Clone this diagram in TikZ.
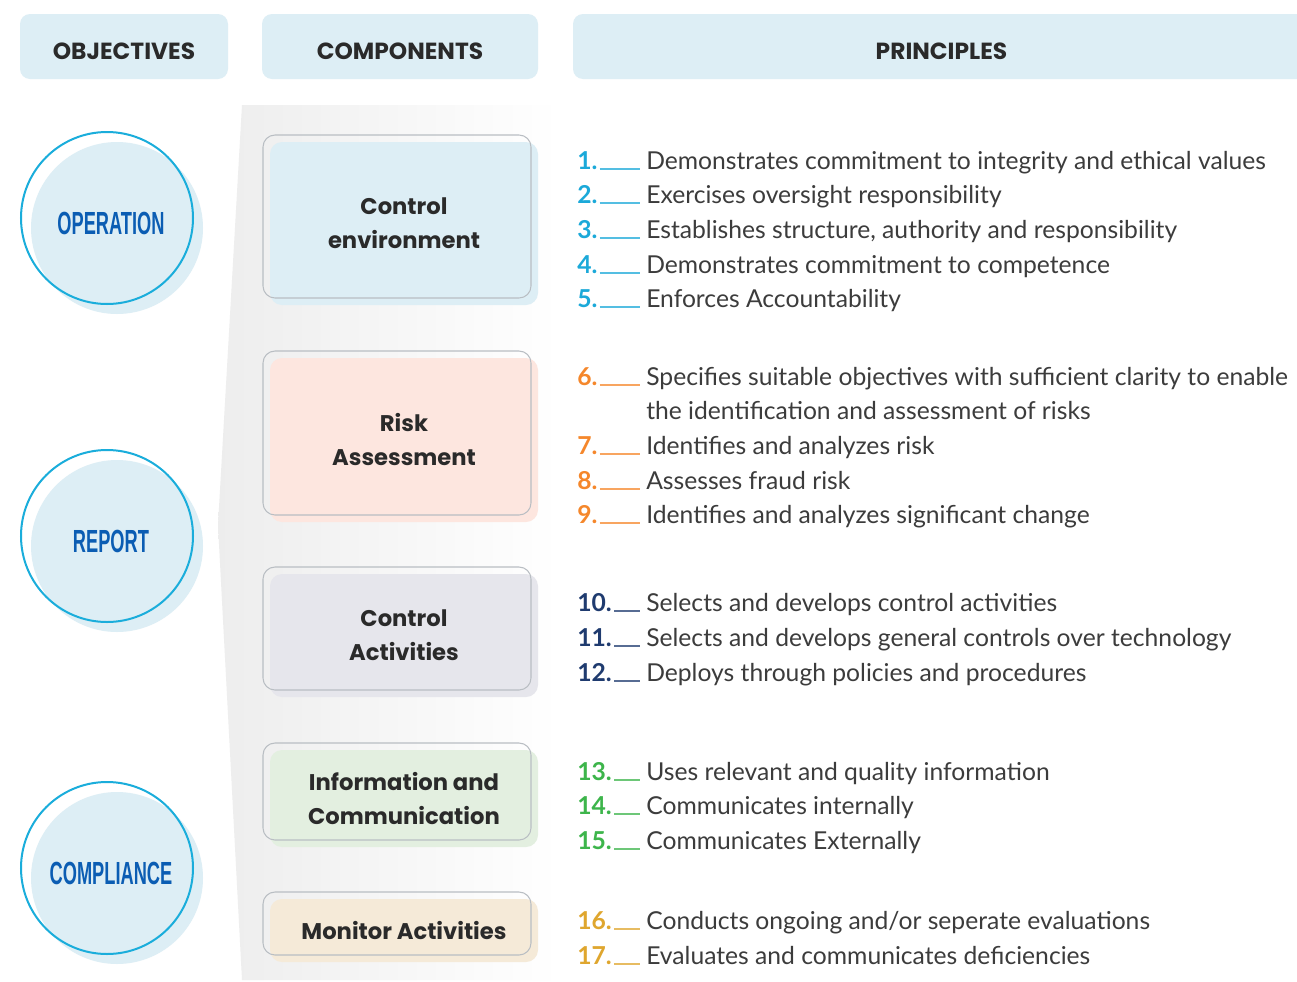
\documentclass[tikz,border=0pt]{standalone}
\usepackage{fontspec}
\setmainfont{Lato}
\newfontfamily\objfont{Liberation Sans}[FakeStretch=0.57]
\newfontfamily\compfont{Poppins}

\definecolor{headblue}{HTML}{DDEEF5}
\definecolor{ringblue}{HTML}{1AADDB}
\definecolor{objblue}{HTML}{0B5DB3}
\definecolor{boxline}{HTML}{B9BEC3}
\definecolor{rafill}{HTML}{FDE6DF}
\definecolor{cafill}{HTML}{E6E6EC}
\definecolor{icfill}{HTML}{E3EFE0}
\definecolor{mafill}{HTML}{F5EAD8}
\definecolor{txtgray}{HTML}{3C3C3C}
\definecolor{headtxt}{HTML}{2A2A2A}
\definecolor{pcyan}{HTML}{1BA9D9}
\definecolor{porange}{HTML}{F5872B}
\definecolor{pnavy}{HTML}{1F3B6F}
\definecolor{pgreen}{HTML}{3DB54B}
\definecolor{pgold}{HTML}{DFA62E}

\tikzstyle{headbox}=[rectangle,
                     rounded corners=7.5pt,
                     fill=headblue,
                     minimum height=48.75pt,
                     text height=20pt,
                     text depth=0pt,
                     text=headtxt,
                     font=\compfont\bfseries\fontsize{17.5}{19}\selectfont]
\tikzstyle{objshade}=[circle,
                      fill=headblue,
                      inner sep=0pt,
                      minimum size=129pt]
\tikzstyle{objring}=[circle,
                     draw=ringblue,
                     line width=1.5pt,
                     inner sep=0pt,
                     minimum size=129pt]
\tikzstyle{objlabel}=[text=objblue,
                      font=\objfont\bfseries\fontsize{24}{26}\selectfont]
\tikzstyle{compfill}=[rectangle,
                      rounded corners=9pt,
                      minimum width=201pt,
                      align=center,
                      text=headtxt,
                      font=\compfont\bfseries\fontsize{17}{25.5}\selectfont]
\tikzstyle{comprim}=[rectangle,
                     rounded corners=9pt,
                     draw=boxline,
                     line width=0.8pt,
                     minimum width=201pt]
\tikzstyle{pnum}=[inner sep=0pt,
                  anchor=base west,
                  font=\bfseries\fontsize{18.5}{20}\selectfont]
\tikzstyle{ptext}=[inner sep=0pt,
                   anchor=base west,
                   text=txtgray,
                   font=\fontsize{18.5}{20}\selectfont]
\tikzstyle{pdash}=[line width=0.9pt,
                   shorten <=1.5pt,
                   shorten >=4.5pt]

\begin{document}
\begin{tikzpicture}[x=0.75pt,y=-0.75pt]
    \clip (0,0) rectangle (1297,982);
    \fill[white] (0,0) rectangle (1297,982);

    % column headers
    \node [headbox, minimum width=156pt] (hobj) at (124,46.5) {OBJECTIVES};
    \node [headbox, minimum width=207pt] (hcomp) at (400,46.5) {COMPONENTS};
    \node [headbox, minimum width=552.75pt] (hprin) at (941.5,46.5) {PRINCIPLES};

    % grey panel behind the components
    \shade [left color=black!7, right color=white]
        (242,105) -- (218,525) -- (242,980) -- (560,980) -- (560,105) -- cycle;

    % objectives
    \node [objshade] (op-s) at (117,228) {};
    \node [objring] (op-r) at (107,218) {};
    \node [objlabel] (op) at (111,223) {OPERATION};

    \node [objshade] (rep-s) at (117,546) {};
    \node [objring] (rep-r) at (107,536) {};
    \node [objlabel] (rep) at (111,541) {REPORT};

    \node [objshade] (comp-s) at (117,878) {};
    \node [objring] (comp-r) at (107,868) {};
    \node [objlabel] (comp) at (111,873) {COMPLIANCE};

    % components
    \node [compfill, fill=headblue, minimum height=122.25pt] (ce) at (404,223.5) {Control\\environment};
    \node [comprim, minimum height=122.25pt] (ce-r) at (397,216.5) {};

    \node [compfill, fill=rafill, minimum height=123pt] (ra) at (404,440) {Risk\\Assessment};
    \node [comprim, minimum height=123pt] (ra-r) at (397,433) {};

    \node [compfill, fill=cafill, minimum height=92.25pt] (ca) at (404,635.5) {Control\\Activities};
    \node [comprim, minimum height=92.25pt] (ca-r) at (397,628.5) {};

    \node [compfill, fill=icfill, minimum height=72.75pt] (ic) at (404,798.5) {Information and\\Communication};
    \node [comprim, minimum height=72.75pt] (ic-r) at (397,791.5) {};

    \node [compfill, fill=mafill, minimum height=47.25pt] (ma) at (404,930.5) {Monitor Activities};
    \node [comprim, minimum height=47.25pt] (ma-r) at (397,923.5) {};

    % principles
    \foreach \n/\y/\c/\txt in {
        1/169/pcyan/{Demonstrates commitment to integrity and ethical values},
        2/203/pcyan/{Exercises oversight responsibility},
        3/238/pcyan/{Establishes structure, authority and responsibility},
        4/273/pcyan/{Demonstrates commitment to competence},
        5/307/pcyan/{Enforces Accountability},
        6/385/porange/{Specifies suitable objectives with sufficient clarity to enable},
        7/454/porange/{Identifies and analyzes risk},
        8/489/porange/{Assesses fraud risk},
        9/523/porange/{Identifies and analyzes significant change},
        10/611/pnavy/{Selects and develops control activities},
        11/646/pnavy/{Selects and develops general controls over technology},
        12/681/pnavy/{Deploys through policies and procedures},
        13/780/pgreen/{Uses relevant and quality information},
        14/814/pgreen/{Communicates internally},
        15/849/pgreen/{Communicates Externally},
        16/929/pgold/{Conducts ongoing and/or seperate evaluations},
        17/964/pgold/{Evaluates and communicates deficiencies}}
    {
        \node [pnum, text=\c] (n\n) at (577,\y) {\n.};
        \node [ptext] (t\n) at (646,\y) {\txt};
        \draw [pdash, draw=\c!75] (n\n.base east) -- (t\n.base west);
    }
    \node [ptext] (t6b) at (646,419) {the identification and assessment of risks};
\end{tikzpicture}
\end{document}
